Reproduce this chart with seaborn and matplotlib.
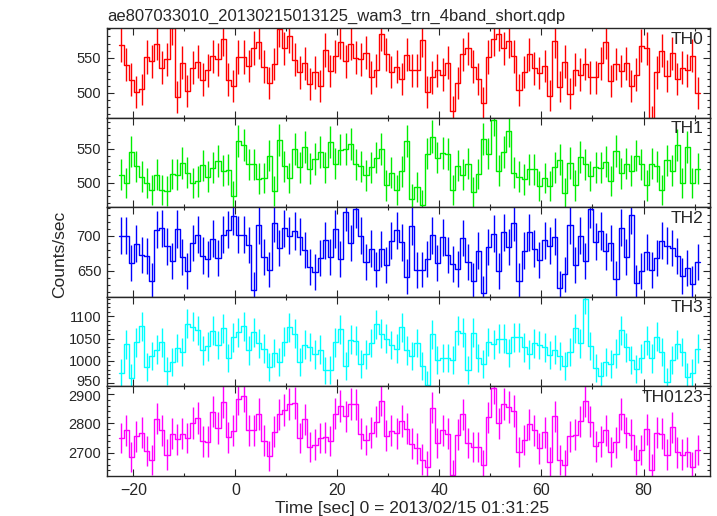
import numpy as np
import pandas as pd
import matplotlib
matplotlib.use("Agg")
import matplotlib.pyplot as plt
import matplotlib.transforms as mtransforms
import seaborn as sns
from matplotlib.ticker import MultipleLocator

# light curve, 1 s bins starting at t = -22.9 s
t_start = -22.9
bin_width = 1.0

th0 = [568, 540, 519, 501, 505, 551, 545, 570, 536, 548, 592, 494, 543, 503, 536, 544, 519, 532, 552, 548,
       577, 519, 510, 551, 551, 538, 564, 572, 537, 514, 541, 590, 563, 580, 547, 529, 542, 512, 529, 510,
       561, 531, 552, 572, 545, 570, 550, 548, 557, 522, 532, 583, 555, 530, 537, 520, 554, 532, 532,
       575, 501, 522, 532, 526, 543, 474, 514, 555, 563, 537, 520, 486, 551, 577, 584, 563, 573, 552, 504,
       530, 555, 535, 528, 538, 496, 573, 509, 544, 499, 533, 526, 541, 522, 522, 542, 572, 517, 541, 531,
       542, 510, 526, 567, 563, 460, 529, 560, 524, 556, 520, 536, 532, 553, 500]

th1 = [512, 500, 546, 524, 509, 500, 489, 512, 490, 488, 513, 512, 529, 515, 500, 502, 526, 509, 522, 532,
       518, 519, 480, 561, 555, 527, 527, 506, 507, 540, 488, 563, 524, 507, 550, 523, 553, 521, 535, 545,
       523, 560, 528, 549, 550, 557, 527, 524, 511, 523, 537, 550, 496, 515, 490, 517, 562,
       476, 494, 468, 543, 568, 537, 544, 542, 489, 525, 512, 528, 486, 513, 565, 543, 593, 518, 545, 576,
       515, 509, 505, 520, 520, 495, 507, 495, 523, 534, 485, 529, 496, 538, 527, 510, 523, 522, 531, 503,
       547, 514, 528, 518, 540, 527, 496, 528, 524, 490, 533, 518, 556, 500, 553, 500, 521]

th2 = [700, 700, 662, 689, 673, 671, 636, 709, 711, 685, 664, 710, 670, 650, 690, 702, 672, 667, 696, 669,
       702, 709, 729, 702, 702, 687, 623, 715, 670, 652, 718, 683, 711, 700, 707, 699, 680, 656, 648, 668,
       694, 670, 710, 667, 734, 690, 739, 700, 663, 682, 652, 681, 658, 693, 708, 691, 642,
       714, 651, 652, 667, 701, 662, 698, 673, 660, 653, 697, 663, 636, 679, 618, 684, 703, 650, 705, 684,
       719, 636, 679, 705, 682, 665, 694, 686, 699, 625, 645, 715, 658, 700, 664, 738, 692, 707, 678, 690,
       639, 712, 670, 730, 633, 650, 677, 651, 669, 693, 686, 683, 671, 643, 654, 632, 663]

th3 = [973, 1037, 961, 1041, 1078, 986, 1010, 1025, 1041, 976, 998, 1028, 1020, 1083, 1077, 1069, 1023, 1032,
       1067, 1035, 1073, 1006, 1053, 1064, 1078, 1023, 1064, 1039, 1027, 986, 1018, 998, 1043, 1075, 1061,
       998, 1036, 1031, 1014, 1025, 978, 979, 1041, 1071, 989, 1047, 1045, 992, 1014, 1040, 1082, 1061, 1050,
       1035, 1027, 1075, 1023,
       1010, 1040, 989, 945, 1060, 1002, 1006, 1006, 1002, 1067, 1063, 979, 1063, 1007, 993, 1042, 1037, 1050,
       1050, 1018, 1053, 1053, 1030, 1014, 1039, 1035, 1030, 1012, 1025, 1011, 989, 1020, 1073, 1039, 1139,
       1033, 983, 966, 998, 993, 1016, 1069, 1030, 1001, 981, 1005, 1045, 1005, 1054, 1020, 953, 1002, 1037,
       1019, 964, 972, 1027]

th0123 = [2750, 2777, 2685, 2756, 2767, 2706, 2675, 2815, 2777, 2693, 2764, 2745, 2764, 2750, 2801, 2818, 2739,
          2738, 2839, 2784, 2873, 2753, 2774, 2882, 2891, 2777, 2777, 2832, 2741, 2689, 2772, 2830, 2845, 2866,
          2869, 2750, 2813, 2719, 2727, 2750, 2753, 2740, 2833, 2859, 2823, 2866, 2864, 2764, 2743, 2767, 2805,
          2877, 2757, 2774, 2766, 2808, 2781,
          2731, 2715, 2677, 2653, 2853, 2733, 2777, 2764, 2624, 2761, 2830, 2733, 2719, 2719, 2658, 2820, 2919,
          2800, 2866, 2855, 2842, 2702, 2743, 2797, 2777, 2715, 2770, 2667, 2823, 2675, 2658, 2756, 2761, 2806,
          2874, 2805, 2722, 2738, 2776, 2702, 2736, 2831, 2767, 2761, 2675, 2709, 2780, 2643, 2767, 2764, 2693,
          2787, 2701, 2693, 2702, 2650, 2709]

bands = ["TH0", "TH1", "TH2", "TH3", "TH0123"]
series = [th0, th1, th2, th3, th0123]
colors = ["#ff0000", "#00ee00", "#0000ff", "#00ffff", "#ff00ff"]
ylims = [(465, 592), (464, 596), (613, 741), (942, 1144), (2621, 2925)]
major_steps = [50, 50, 50, 50, 100]
minor_steps = [10, 10, 10, 10, 20]

sns.set_style("ticks")
plt.rcParams['font.family'] = ['Liberation Sans', 'DejaVu Sans']

fig, axes = plt.subplots(5, 1, figsize=(7.17, 5.16), dpi=100, sharex=True)
fig.subplots_adjust(left=0.149, right=0.990, bottom=0.0775, top=0.9457, hspace=0)

for ax, name, vals, col, yl, mj, mn in zip(axes, bands, series, colors, ylims, major_steps, minor_steps):
    vals = np.array(vals, dtype=float)
    n = len(vals)
    edges = t_start + bin_width * np.arange(n + 1)
    centers = edges[:-1] + bin_width / 2
    # Poisson error of 1 s bins
    err = np.sqrt(vals * bin_width) / bin_width
    df = pd.DataFrame({"t": edges, "rate": np.append(vals, vals[-1])})
    sns.lineplot(data=df, x="t", y="rate", drawstyle="steps-post", color=col, lw=1.0, ax=ax)
    ax.errorbar(centers, vals, yerr=err, fmt="none", ecolor=col, elinewidth=1.0, capsize=0)
    ax.set_ylim(*yl)
    ax.set_xlim(-25.2, 93.0)
    ax.yaxis.set_major_locator(MultipleLocator(mj))
    ax.yaxis.set_minor_locator(MultipleLocator(mn))
    ax.xaxis.set_major_locator(MultipleLocator(20))
    ax.xaxis.set_minor_locator(MultipleLocator(10))
    ax.tick_params(which="both", direction="in", top=True, right=True, labelsize=10.5, width=0.8)
    ax.tick_params(which="major", length=5, pad=4)
    ax.tick_params(which="minor", length=2.5)
    ax.set_xlabel("")
    ax.set_ylabel("")
    for s in ax.spines.values():
        s.set_linewidth(1.0)
    ax.text(0.99, 0.96, name, transform=ax.transAxes, ha="right", va="top", fontsize=12.5)

axes[-1].tick_params(axis="x", pad=5, labelsize=11.5)

fig.text(0.149, 1 - 21 / 516, "ae807033010_20130215013125_wam3_trn_4band_short.qdp",
         ha="left", va="baseline", fontsize=12)
fig.text(60 / 717, 1 - 254 / 516, "Counts/sec", rotation=90, ha="center", va="center", fontsize=12.5)
fig.text(412 / 717, 1 - 508 / 516, "Time [sec] 0 = 2013/02/15 01:31:25", ha="center", va="center",
         fontsize=12.5)

# nudge the two crowded labels (TH3 "950" / TH0123 "2900") apart a little
fig.canvas.draw()
for ax, val, dy in [(axes[3], 950, 2), (axes[4], 2900, -2)]:
    for tick in ax.yaxis.get_major_ticks():
        if abs(tick.get_loc() - val) < 1e-6:
            lab = tick.label1
            lab.set_transform(lab.get_transform() +
                              mtransforms.ScaledTranslation(0, dy / 100, fig.dpi_scale_trans))

fig.savefig("out.png", dpi=100)
